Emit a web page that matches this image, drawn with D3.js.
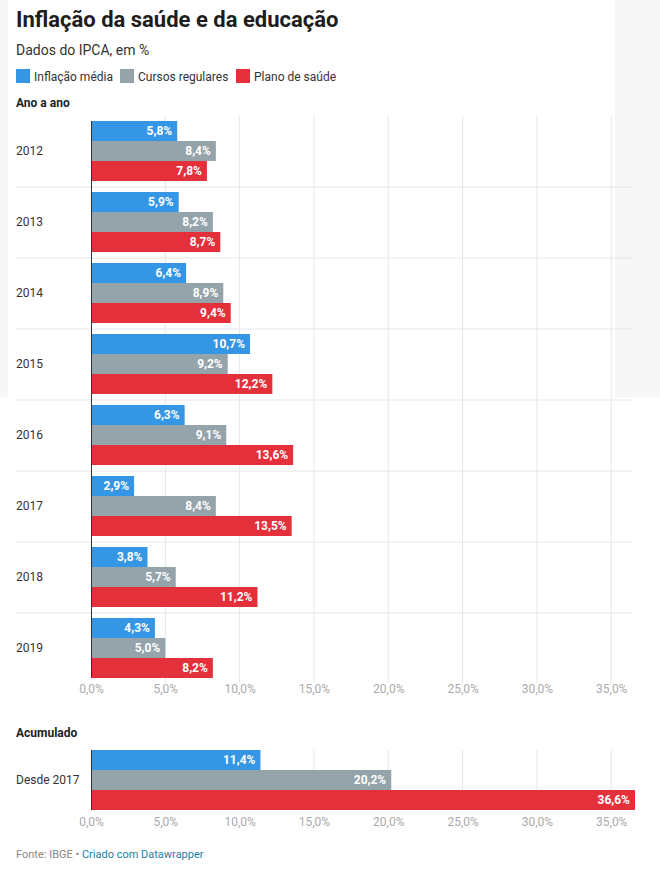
<!DOCTYPE html>
<html>
<head>
<meta charset="utf-8">
<script src="https://cdn.jsdelivr.net/npm/d3@7"></script>
<style>
  body { margin: 0; background: #fff; font-family: Roboto, "Noto Sans", sans-serif; }
  svg text { font-family: Roboto, "Noto Sans", sans-serif; }
</style>
</head>
<body>
<div id="chart-area"></div>
<script>
var years = ["2012", "2013", "2014", "2015", "2016", "2017", "2018", "2019"];
var series = ["Inflação média", "Cursos regulares", "Plano de saúde"];
var media = [5.8, 5.9, 6.4, 10.7, 6.3, 2.9, 3.8, 4.3];
var cursos = [8.4, 8.2, 8.9, 9.2, 9.1, 8.4, 5.7, 5.0];
var plano = [7.8, 8.7, 9.4, 12.2, 13.6, 13.5, 11.2, 8.2];
var acumLabel = ["Desde 2017"];
var acumValues = [11.4, 20.2, 36.6];
var ticks = [0, 5, 10, 15, 20, 25, 30, 35];

var colors = ["#3596e6", "#95a3ab", "#e3303a"];
var W = 660, H = 875;

var svg = d3.select("#chart-area")
    .append("svg")
        .attr("width", W)
        .attr("height", H);

// faint gray patches from the original screenshot
svg.append("rect").attr("x", 0).attr("y", 0).attr("width", 8).attr("height", 397).attr("fill", "#f7f7f7");
svg.append("rect").attr("x", 615).attr("y", 0).attr("width", 45).attr("height", 397).attr("fill", "#f7f7f7");

// header
svg.append("text").attr("x", 16).attr("y", 27)
    .attr("font-size", 22).attr("font-weight", "bold").attr("fill", "#1d1d1d")
    .text("Inflação da saúde e da educação");
svg.append("text").attr("x", 16).attr("y", 55)
    .attr("font-size", 14).attr("fill", "#333")
    .text("Dados do IPCA, em %");

var legendX = [16, 120, 236];
series.forEach(function(s, i) {
    svg.append("rect").attr("x", legendX[i]).attr("y", 69).attr("width", 14).attr("height", 14).attr("fill", colors[i]);
    svg.append("text").attr("x", legendX[i] + 18).attr("y", 81)
        .attr("font-size", 12).attr("fill", "#333").text(s);
});

var x = d3.scaleLinear()
    .domain([0, 36.6])
    .range([91, 635]);

function tickFmt(d) { return d.toFixed(1).replace(".", ",") + "%"; }
function valFmt(d) { return d.toFixed(1).replace(".", ",") + "%"; }

// draws one panel: rows of grouped bars
function panel(top, rows, values, title, sep, axisY) {
    var rowH = 71;
    var y = d3.scaleBand().domain(rows).range([top, top + rowH * rows.length]);
    var inner = d3.scaleBand().domain(d3.range(3)).range([5.5, 65.5]);

    svg.append("text").attr("x", 16).attr("y", title.y)
        .attr("font-size", 12).attr("font-weight", "bold").attr("fill", "#222").text(title.t);

    var y0 = top + 5.5 - (sep ? 5 : 0), y1 = top + rowH * rows.length - 5.5 + (sep ? 5 : 0);

    // grid
    svg.append("g").selectAll("line")
        .data(ticks.slice(1))
        .enter().append("line")
        .attr("x1", d => x(d)).attr("x2", d => x(d))
        .attr("y1", y0).attr("y2", y1)
        .attr("stroke", "#e6e6e6").attr("stroke-width", 1);

    if (sep) {
        svg.append("g").selectAll("line")
            .data(rows.slice(1))
            .enter().append("line")
            .attr("x1", 16).attr("x2", 632)
            .attr("y1", d => y(d) + 0.5).attr("y2", d => y(d) + 0.5)
            .attr("stroke", "#e6e6e6");
    }

    rows.forEach(function(r, ri) {
        svg.append("text").attr("x", 16).attr("y", y(r) + rowH / 2 + 4)
            .attr("font-size", 12).attr("fill", "#333").text(r);
        var g = svg.append("g").attr("transform", "translate(0," + y(r) + ")");
        var vals = values.map(v => v[ri]);
        g.selectAll("rect")
            .data(vals)
            .enter().append("rect")
            .attr("x", x(0))
            .attr("y", (d, i) => inner(i))
            .attr("width", d => x(d) - x(0))
            .attr("height", inner.bandwidth())
            .attr("fill", (d, i) => colors[i]);
        g.selectAll("text.v")
            .data(vals)
            .enter().append("text")
            .attr("class", "v")
            .attr("x", d => x(d) - 5)
            .attr("y", (d, i) => inner(i) + inner.bandwidth() / 2 + 4)
            .attr("text-anchor", "end")
            .attr("font-size", 12).attr("font-weight", "bold").attr("fill", "#fff")
            .text(d => valFmt(d));
    });

    svg.append("line").attr("x1", x(0) + 0.5).attr("x2", x(0) + 0.5)
        .attr("y1", top + 5.5).attr("y2", top + rowH * rows.length - 5.5)
        .attr("stroke", "#333").attr("stroke-width", 1);

    var axis = d3.axisBottom(x).tickValues(ticks).tickFormat(tickFmt).tickSize(0).tickPadding(0);
    var ag = svg.append("g").attr("transform", "translate(0," + axisY + ")").call(axis);
    ag.select(".domain").remove();
    ag.selectAll("text").attr("font-size", 12).attr("fill", "#aaa").attr("dy", "0.71em");
}

panel(115.5, years, [media, cursos, plano], {t: "Ano a ano", y: 107}, true, 684);
panel(744.5, acumLabel, [[acumValues[0]], [acumValues[1]], [acumValues[2]]], {t: "Acumulado", y: 737}, false, 817);

// footer
var foot = svg.append("text").attr("x", 16).attr("y", 858).attr("font-size", 11);
foot.append("tspan").attr("fill", "#888").text("Fonte: IBGE • ");
foot.append("tspan").attr("fill", "#1d81a2").text("Criado com Datawrapper");
</script>
</body>
</html>
